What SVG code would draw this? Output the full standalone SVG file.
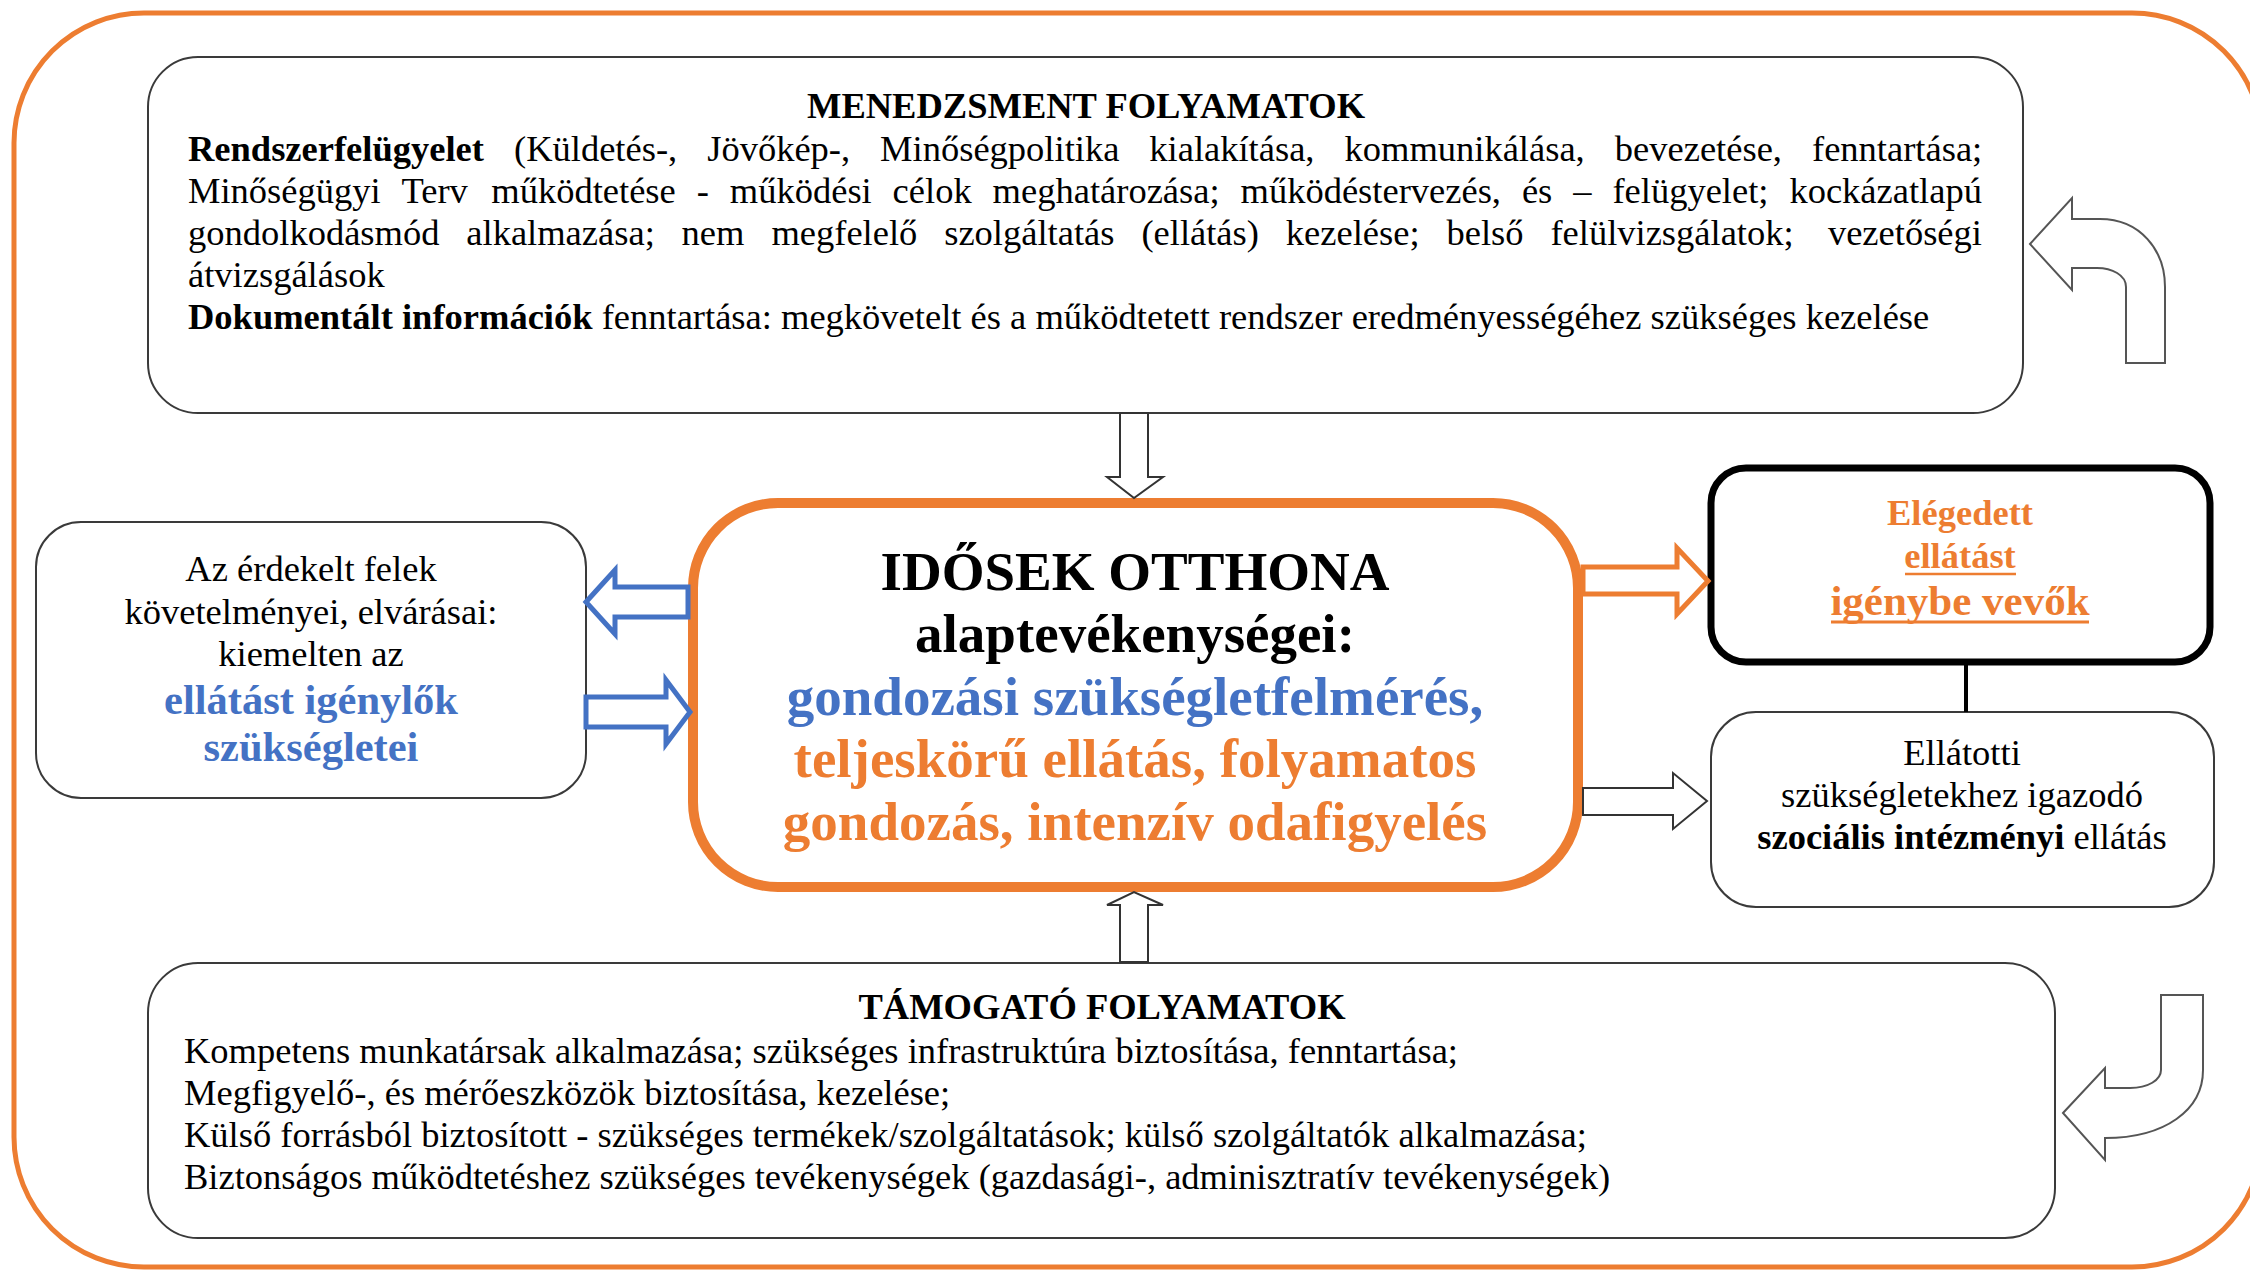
<svg xmlns="http://www.w3.org/2000/svg" width="2250" height="1270" viewBox="0 0 2250 1270">
<style>
.t{font-family:"Liberation Serif","Times New Roman",serif;font-size:36.5px;fill:#000}
.b{font-weight:bold}
.c{text-anchor:middle}
.big{font-size:55px;font-weight:bold}
.blue{fill:#4472C4}
.or{fill:#ED7D31}
.box{fill:#fff;stroke:#3a3a3a;stroke-width:2}
.harrow{fill:#fff;stroke:#333;stroke-width:2;stroke-linejoin:miter}
.barrow{fill:#fff;stroke:#4472C4;stroke-width:5;stroke-linejoin:miter}
.oarrow{fill:#fff;stroke:#ED7D31;stroke-width:5;stroke-linejoin:miter}
.curve{fill:#fff;stroke:#555;stroke-width:2}
</style>
<rect width="2250" height="1270" fill="#fff"/>
<g id="frame">
<rect x="14" y="13" width="2248" height="1254" rx="130" ry="130" fill="none" stroke="#ED7D31" stroke-width="5"/>
</g>
<g id="management">
<rect class="box" x="148" y="57" width="1875" height="356" rx="50" ry="50"/>
<text class="t b c" x="1086" y="118">MENEDZSMENT FOLYAMATOK</text>
<text class="t" y="161"><tspan x="188" class="b">Rendszerfelügyelet</tspan><tspan x="514">(Küldetés-,</tspan><tspan x="707.2">Jövőkép-,</tspan><tspan x="880.1">Minőségpolitika</tspan><tspan x="1149.3">kialakítása,</tspan><tspan x="1344.5">kommunikálása,</tspan><tspan x="1614.8">bevezetése,</tspan><tspan x="1812">fenntartása;</tspan></text>
<text class="t" y="203"><tspan x="188">Minőségügyi</tspan><tspan x="401.5">Terv</tspan><tspan x="491.3">működtetése</tspan><tspan x="696.7">-</tspan><tspan x="729.8">működési</tspan><tspan x="892.6">célok</tspan><tspan x="992.6">meghatározása;</tspan><tspan x="1240.5">működéstervezés,</tspan><tspan x="1521.9">és</tspan><tspan x="1573.2">–</tspan><tspan x="1612.4">felügyelet;</tspan><tspan x="1789.4">kockázatlapú</tspan></text>
<text class="t" y="245"><tspan x="188">gondolkodásmód</tspan><tspan x="466.3">alkalmazása;</tspan><tspan x="681.6">nem</tspan><tspan x="771.4">megfelelő</tspan><tspan x="944.2">szolgáltatás</tspan><tspan x="1141.4">(ellátás)</tspan><tspan x="1285.8">kezelése;</tspan><tspan x="1446.5">belső</tspan><tspan x="1550.4">felülvizsgálatok;</tspan><tspan x="1827.9">vezetőségi</tspan></text>
<text class="t" x="188" y="287">átvizsgálások</text>
<text class="t" x="188" y="329"><tspan class="b">Dokumentált információk</tspan> fenntartása: megkövetelt és a működtetett rendszer eredményességéhez szükséges kezelése</text>
</g>
<g id="stakeholders">
<rect class="box" x="36" y="522" width="550" height="276" rx="45" ry="45"/>
<text class="t c" x="311" y="581">Az érdekelt felek</text>
<text class="t c" x="311" y="624">követelményei, elvárásai:</text>
<text class="t c" x="311" y="666">kiemelten az</text>
<text class="t c b blue" x="311" y="714" style="font-size:42.5px">ellátást igénylők</text>
<text class="t c b blue" x="311" y="761" style="font-size:42.5px">szükségletei</text>
</g>
<g id="core">
<rect x="693" y="503" width="885" height="384" rx="85" ry="85" fill="#fff" stroke="#ED7D31" stroke-width="10"/>
<text class="t c big" x="1135" y="590">IDŐSEK OTTHONA</text>
<text class="t c big" x="1135" y="652">alaptevékenységei:</text>
<text class="t c big blue" x="1135" y="715">gondozási szükségletfelmérés,</text>
<text class="t c big or" x="1135" y="777">teljeskörű ellátás, folyamatos</text>
<text class="t c big or" x="1135" y="840">gondozás, intenzív odafigyelés</text>
</g>
<g id="satisfied">
<rect x="1711" y="468" width="499" height="194" rx="35" ry="35" fill="#fff" stroke="#000" stroke-width="7"/>
<text class="t c b or" x="1960" y="525">Elégedett</text>
<text class="t c b or" x="1960" y="568">ellátást</text>
<line x1="1905" y1="574" x2="2016" y2="574" stroke="#ED7D31" stroke-width="2.5"/>
<text class="t c b or" x="1960" y="615" style="font-size:43px">igénybe vevők</text>
<line x1="1831" y1="622" x2="2089" y2="622" stroke="#ED7D31" stroke-width="3"/>
</g>
<g id="service">
<rect class="box" x="1711" y="712" width="503" height="195" rx="45" ry="45"/>
<text class="t c" x="1962" y="765">Ellátotti</text>
<text class="t c" x="1962" y="807">szükségletekhez igazodó</text>
<text class="t c" x="1962" y="849"><tspan class="b">szociális intézményi</tspan> ellátás</text>
</g>
<g id="support">
<rect class="box" x="148" y="963" width="1907" height="275" rx="50" ry="50"/>
<text class="t b c" x="1102" y="1019">TÁMOGATÓ FOLYAMATOK</text>
<text class="t" x="184" y="1063">Kompetens munkatársak alkalmazása; szükséges infrastruktúra biztosítása, fenntartása;</text>
<text class="t" x="184" y="1105">Megfigyelő-, és mérőeszközök biztosítása, kezelése;</text>
<text class="t" x="184" y="1147">Külső forrásból biztosított - szükséges termékek/szolgáltatások; külső szolgáltatók alkalmazása;</text>
<text class="t" x="184" y="1189">Biztonságos működtetéshez szükséges tevékenységek (gazdasági-, adminisztratív tevékenységek)</text>
</g>
<g id="connectors">
<path class="harrow" d="M1120 413 L1148 413 L1148 477 L1163 477 L1134 498 L1107 477 L1120 477 Z"/>
<path class="harrow" d="M1120 962 L1120 905 L1107 905 L1134 892 L1163 905 L1148 905 L1148 962 Z"/>
<path class="barrow" d="M586 602 L615 570 L615 587 L688 587 L688 617 L615 617 L615 634 Z"/>
<path class="barrow" d="M586 697 L666 697 L666 680 L690 712 L666 744 L666 727 L586 727 Z"/>
<path class="oarrow" d="M1583 567 L1677 567 L1677 548 L1708 581 L1677 614 L1677 594 L1583 594 Z"/>
<path class="harrow" d="M1583 788 L1673 788 L1673 773 L1707 801 L1673 829 L1673 815 L1583 815 Z"/>
<line x1="1966" y1="665" x2="1966" y2="712" stroke="#000" stroke-width="4"/>
<path class="curve" d="M2030 244 L2072 198 L2072 219 L2100 219 C2140 219 2165 250 2165 287 L2165 363 L2126 363 L2126 287 C2126 275 2112 268 2097 268 L2072 268 L2072 290 Z"/>
<path class="curve" d="M2063 1113 L2105 1068 L2105 1088 L2130 1088 C2148 1088 2161 1080 2161 1070 L2161 995 L2203 995 L2203 1070 C2203 1110 2165 1138 2105 1138 L2105 1160 Z"/>
</g>
</svg>
